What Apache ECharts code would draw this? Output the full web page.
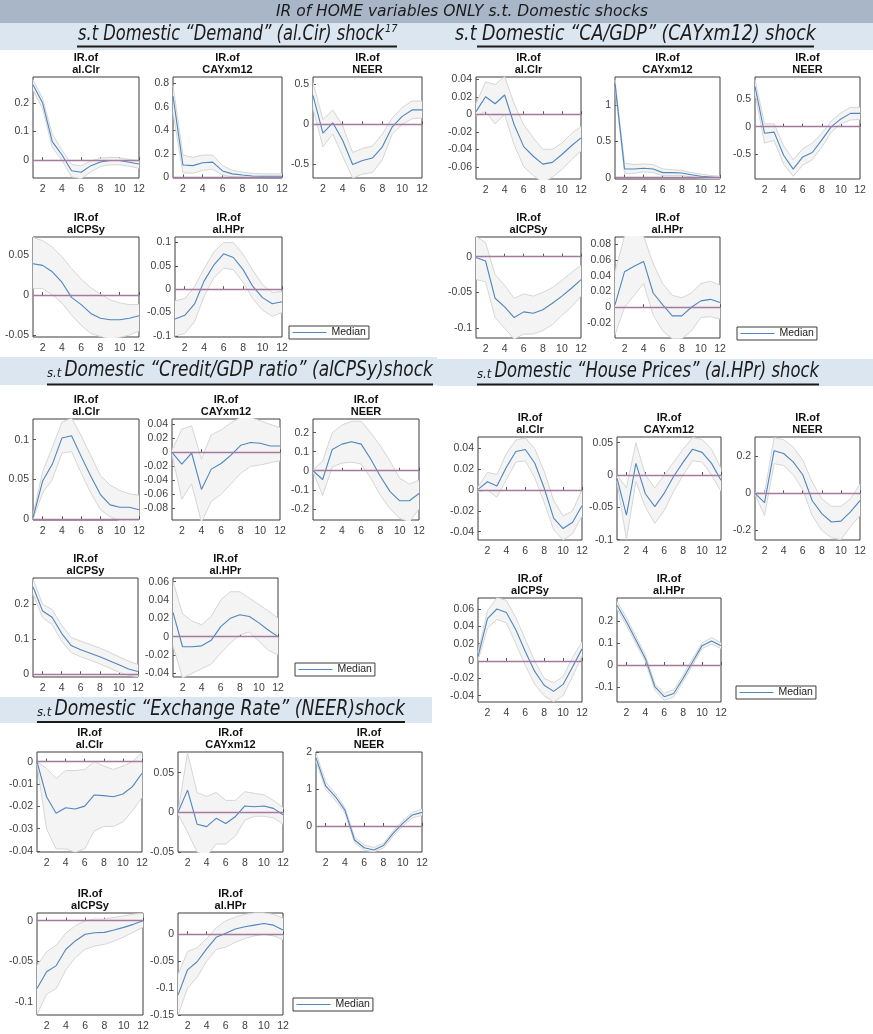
<!DOCTYPE html>
<html><head><meta charset="utf-8">
<script src="https://cdn.jsdelivr.net/npm/echarts@6/dist/echarts.min.js"></script>
<style>html,body{margin:0;padding:0;background:#fff}#c{width:873px;height:1034px}</style>
</head><body><div id="c"></div>
<script>
// ---------- texts ----------
const steps = ['1','2','3','4','5','6','7','8','9','10','11','12'];
const mainTitle = 'IR of HOME variables ONLY s.t. Domestic shocks';
const varTitles = ['IR.of\nal.Clr','IR.of\nCAYxm12','IR.of\nNEER','IR.of\nalCPSy','IR.of\nal.HPr'];
const legendLabel = 'Median';

// ---------- Demand (al.Cir) shock ----------
const demClrMed = [0.263,0.199,0.065,0.019,-0.037,-0.042,-0.019,-0.006,-0.001,-0.001,-0.007,-0.013];
const demClrHi  = [0.28,0.215,0.09,0.036,-0.015,-0.02,-0.003,0.007,0.01,0.008,0.003,-0.002];
const demClrLo  = [0.245,0.18,0.045,0.0,-0.058,-0.065,-0.04,-0.022,-0.016,-0.016,-0.021,-0.028];
const demClrTicks = [0,0.1,0.2];           const demClrLim = [-0.062,0.29];
const demCayMed = [0.69,0.105,0.1,0.125,0.13,0.055,0.03,0.02,0.012,0.01,0.01,0.01];
const demCayHi  = [0.78,0.19,0.17,0.19,0.19,0.1,0.06,0.045,0.035,0.03,0.03,0.03];
const demCayLo  = [0.55,0.04,0.035,0.06,0.07,0.02,0.005,0.0,-0.004,-0.004,0.0,0.0];
const demCayTicks = [0,0.2,0.4,0.6,0.8];   const demCayLim = [-0.005,0.853];
const demNeerMed = [0.36,-0.11,0.02,-0.2,-0.5,-0.45,-0.42,-0.28,-0.03,0.1,0.18,0.18];
const demNeerHi  = [0.52,0.06,0.18,-0.02,-0.35,-0.3,-0.27,-0.12,0.08,0.21,0.29,0.29];
const demNeerLo  = [0.2,-0.28,-0.12,-0.4,-0.67,-0.62,-0.6,-0.44,-0.12,0.0,0.07,0.08];
const demNeerTicks = [-0.5,0,0.5];         const demNeerLim = [-0.668,0.59];
const demCpsMed = [0.039,0.037,0.029,0.016,-0.003,-0.012,-0.023,-0.029,-0.031,-0.031,-0.029,-0.026];
const demCpsHi  = [0.072,0.068,0.06,0.048,0.033,0.02,0.009,0.001,-0.006,-0.01,-0.012,-0.012];
const demCpsLo  = [0.008,0.008,0.0,-0.01,-0.025,-0.038,-0.048,-0.052,-0.055,-0.053,-0.05,-0.045];
const demCpsTicks = [-0.05,0,0.05];        const demCpsLim = [-0.0525,0.0725];
const demHprMed = [-0.064,-0.056,-0.032,0.018,0.052,0.076,0.068,0.042,0.006,-0.018,-0.031,-0.027];
const demHprHi  = [-0.025,-0.02,0.005,0.045,0.08,0.1,0.1,0.075,0.04,0.01,-0.007,-0.005];
const demHprLo  = [-0.1,-0.095,-0.07,-0.015,0.025,0.045,0.042,0.015,-0.02,-0.045,-0.058,-0.05];
const demHprTicks = [-0.1,-0.05,0,0.05,0.1]; const demHprLim = [-0.1024,0.112];

// ---------- CA/GDP (CAYxm12) shock ----------
const cagClrMed = [0.003,0.020,0.012,0.022,-0.012,-0.037,-0.048,-0.057,-0.055,-0.046,-0.036,-0.027];
const cagClrHi  = [0.012,0.037,0.034,0.043,0.012,-0.012,-0.027,-0.04,-0.04,-0.033,-0.022,-0.014];
const cagClrLo  = [-0.002,0.003,-0.011,0.0,-0.035,-0.06,-0.07,-0.078,-0.072,-0.063,-0.052,-0.042];
const cagClrTicks = [-0.06,-0.04,-0.02,0,0.02,0.04]; const cagClrLim = [-0.074,0.0426];
const cagCayMed = [1.30,0.12,0.12,0.13,0.12,0.07,0.07,0.065,0.04,0.02,0.01,0.0];
const cagCayHi  = [1.35,0.2,0.18,0.19,0.18,0.12,0.11,0.1,0.07,0.05,0.03,0.02];
const cagCayLo  = [1.25,0.06,0.06,0.08,0.07,0.03,0.03,0.03,0.01,-0.005,-0.01,-0.015];
const cagCayTicks = [0,0.5,1];             const cagCayLim = [-0.018,1.387];
const cagNeerMed = [0.73,-0.12,-0.10,-0.52,-0.77,-0.55,-0.47,-0.24,0.0,0.14,0.24,0.24];
const cagNeerHi  = [0.85,0.05,0.05,-0.35,-0.6,-0.4,-0.3,-0.12,0.1,0.25,0.35,0.35];
const cagNeerLo  = [0.6,-0.3,-0.25,-0.68,-0.9,-0.7,-0.6,-0.37,-0.1,0.05,0.12,0.13];
const cagNeerTicks = [-0.5,0,0.5];         const cagNeerLim = [-0.95,0.9];
const cagCpsMed = [-0.001,-0.006,-0.058,-0.070,-0.085,-0.077,-0.079,-0.074,-0.065,-0.055,-0.044,-0.032];
const cagCpsHi  = [0.028,0.02,-0.025,-0.04,-0.058,-0.052,-0.055,-0.05,-0.043,-0.033,-0.022,-0.012];
const cagCpsLo  = [-0.032,-0.035,-0.085,-0.1,-0.115,-0.108,-0.108,-0.103,-0.095,-0.082,-0.07,-0.055];
const cagCpsTicks = [-0.1,-0.05,0];        const cagCpsLim = [-0.1135,0.0275];
const cagHprMed = [0.003,0.045,0.052,0.058,0.018,0.003,-0.011,-0.011,0.0,0.008,0.01,0.006];
const cagHprHi  = [0.045,0.09,0.095,0.09,0.055,0.03,0.015,0.012,0.018,0.03,0.033,0.028];
const cagHprLo  = [-0.035,0.0,0.015,0.03,-0.01,-0.03,-0.04,-0.04,-0.03,-0.013,-0.012,-0.015];
const cagHprTicks = [-0.02,0,0.02,0.04,0.06,0.08]; const cagHprLim = [-0.039,0.089];

// ---------- Credit/GDP (alCPSy) shock ----------
const crdClrMed = [0.002,0.048,0.069,0.102,0.105,0.079,0.054,0.031,0.018,0.015,0.015,0.012];
const crdClrHi  = [0.005,0.06,0.09,0.122,0.127,0.105,0.08,0.055,0.043,0.036,0.032,0.03];
const crdClrLo  = [0.0,0.033,0.05,0.083,0.085,0.058,0.033,0.012,0.003,-0.002,-0.002,-0.002];
const crdClrTicks = [0,0.05,0.1];          const crdClrLim = [-0.001,0.126];
const crdCayMed = [0,-0.017,-0.001,-0.053,-0.024,-0.016,-0.004,0.010,0.014,0.013,0.009,0.009];
const crdCayHi  = [0.003,0.033,0.038,-0.01,0.025,0.032,0.042,0.05,0.05,0.045,0.04,0.035];
const crdCayLo  = [-0.003,-0.067,-0.045,-0.1,-0.07,-0.06,-0.045,-0.03,-0.02,-0.018,-0.015,-0.012];
const crdCayTicks = [-0.08,-0.06,-0.04,-0.02,0,0.02,0.04]; const crdCayLim = [-0.0967,0.0476];
const crdNeerMed = [0,-0.046,0.112,0.14,0.152,0.14,0.06,-0.03,-0.11,-0.158,-0.158,-0.12];
const crdNeerHi  = [0.005,0.05,0.2,0.24,0.26,0.26,0.2,0.13,0.05,-0.04,-0.07,-0.05];
const crdNeerLo  = [-0.005,-0.13,0.02,0.04,0.045,0.035,-0.04,-0.13,-0.2,-0.25,-0.27,-0.2];
const crdNeerTicks = [-0.2,-0.1,0,0.1,0.2]; const crdNeerLim = [-0.259,0.272];
const crdCpsMed = [0.25,0.181,0.163,0.117,0.082,0.07,0.06,0.05,0.039,0.027,0.015,0.008];
const crdCpsHi  = [0.272,0.2,0.185,0.14,0.105,0.095,0.085,0.075,0.063,0.05,0.038,0.028];
const crdCpsLo  = [0.23,0.162,0.142,0.095,0.062,0.05,0.04,0.03,0.018,0.006,-0.003,-0.007];
const crdCpsTicks = [0,0.1,0.2];           const crdCpsLim = [-0.0077,0.275];
const crdHprMed = [0.0265,-0.011,-0.011,-0.010,-0.004,0.011,0.020,0.024,0.022,0.015,0.007,0.0];
const crdHprHi  = [0.06,0.025,0.017,0.013,0.022,0.04,0.049,0.049,0.042,0.035,0.028,0.02];
const crdHprLo  = [-0.01,-0.045,-0.04,-0.035,-0.03,-0.018,-0.007,0.002,0.005,-0.005,-0.015,-0.02];
const crdHprTicks = [-0.04,-0.02,0,0.02,0.04,0.06]; const crdHprLim = [-0.044,0.064];

// ---------- House Prices (al.HPr) shock ----------
const hprClrMed = [0.0006,0.008,0.004,0.022,0.037,0.039,0.026,0.002,-0.027,-0.037,-0.031,-0.015];
const hprClrHi  = [0.003,0.017,0.015,0.035,0.048,0.05,0.04,0.018,-0.01,-0.025,-0.02,0.0];
const hprClrLo  = [-0.002,0.0,-0.007,0.01,0.027,0.028,0.012,-0.012,-0.038,-0.048,-0.042,-0.025];
const hprClrTicks = [-0.04,-0.02,0,0.02,0.04]; const hprClrLim = [-0.048,0.051];
const hprCayMed = [-0.005,-0.062,0.018,-0.029,-0.049,-0.028,-0.002,0.02,0.04,0.035,0.018,-0.008];
const hprCayHi  = [0.0,-0.02,0.05,0.0,-0.02,0.0,0.02,0.04,0.058,0.055,0.04,0.01];
const hprCayLo  = [-0.01,-0.1,-0.01,-0.05,-0.075,-0.055,-0.025,0.0,0.022,0.02,0.0,-0.025];
const hprCayTicks = [-0.1,-0.05,0,0.05];   const hprCayLim = [-0.1006,0.0588];
const hprNeerMed = [0,-0.05,0.23,0.215,0.17,0.1,-0.04,-0.11,-0.155,-0.15,-0.1,-0.04];
const hprNeerHi  = [0.005,0.0,0.3,0.29,0.25,0.18,0.06,-0.03,-0.07,-0.07,-0.03,0.05];
const hprNeerLo  = [-0.005,-0.12,0.16,0.15,0.1,0.02,-0.12,-0.2,-0.24,-0.25,-0.18,-0.12];
const hprNeerTicks = [-0.2,0,0.2];         const hprNeerLim = [-0.252,0.304];
const hprCpsMed = [0.005,0.049,0.060,0.056,0.036,0.011,-0.012,-0.028,-0.035,-0.027,-0.007,0.014];
const hprCpsHi  = [0.01,0.058,0.073,0.07,0.05,0.025,0.0,-0.02,-0.025,-0.018,0.004,0.022];
const hprCpsLo  = [0.0,0.038,0.048,0.044,0.02,-0.005,-0.027,-0.04,-0.047,-0.04,-0.018,0.006];
const hprCpsTicks = [-0.04,-0.02,0,0.02,0.04,0.06]; const hprCpsLim = [-0.0473,0.0727];
const hprHprMed = [0.272,0.197,0.114,0.03,-0.098,-0.144,-0.129,-0.06,0.015,0.088,0.109,0.088];
const hprHprHi  = [0.29,0.215,0.13,0.045,-0.085,-0.128,-0.112,-0.045,0.03,0.1,0.125,0.1];
const hprHprLo  = [0.255,0.18,0.098,0.015,-0.113,-0.16,-0.145,-0.075,0.0,0.075,0.095,0.075];
const hprHprTicks = [-0.1,0,0.1,0.2];      const hprHprLim = [-0.168,0.3045];

// ---------- Exchange Rate (NEER) shock ----------
const exrClrMed = [0,-0.0157,-0.0231,-0.0206,-0.0212,-0.0199,-0.0149,-0.0152,-0.0157,-0.0145,-0.0112,-0.0052];
const exrClrHi  = [0.0,-0.003,-0.0075,-0.004,-0.004,-0.0035,0.0,-0.002,-0.0035,-0.002,0.0,0.004];
const exrClrLo  = [-0.001,-0.03,-0.039,-0.039,-0.0405,-0.039,-0.031,-0.029,-0.029,-0.027,-0.022,-0.016];
const exrClrTicks = [-0.04,-0.03,-0.02,-0.01,0]; const exrClrLim = [-0.0404,0.0043];
const exrCayMed = [0,0.028,-0.015,-0.018,-0.0076,-0.014,-0.0055,0.008,0.007,0.008,0.005,-0.003];
const exrCayHi  = [0.0,0.075,0.025,0.02,0.025,0.015,0.015,0.026,0.024,0.022,0.015,0.006];
const exrCayLo  = [-0.002,-0.025,-0.05,-0.055,-0.04,-0.04,-0.03,-0.01,-0.005,-0.005,-0.007,-0.015];
const exrCayTicks = [-0.05,0,0.05];        const exrCayLim = [-0.05,0.076];
const exrNeerMed = [1.85,1.09,0.8,0.43,-0.38,-0.59,-0.65,-0.53,-0.2,0.07,0.3,0.37];
const exrNeerHi  = [1.98,1.2,0.88,0.5,-0.3,-0.52,-0.58,-0.47,-0.14,0.14,0.37,0.46];
const exrNeerLo  = [1.75,1.0,0.7,0.35,-0.45,-0.66,-0.7,-0.6,-0.27,0.0,0.22,0.29];
const exrNeerTicks = [0,1,2];              const exrNeerLim = [-0.706,2.01];
const exrCpsMed = [-0.083,-0.0625,-0.055,-0.035,-0.0245,-0.0167,-0.0147,-0.0143,-0.0114,-0.0082,-0.0045,0.0];
const exrCpsHi  = [-0.055,-0.038,-0.03,-0.015,-0.006,0.0,0.002,0.002,0.004,0.006,0.008,0.009];
const exrCpsLo  = [-0.115,-0.09,-0.083,-0.06,-0.045,-0.035,-0.031,-0.029,-0.025,-0.02,-0.014,-0.008];
const exrCpsTicks = [-0.1,-0.05,0];        const exrCpsLim = [-0.1155,0.0094];
const exrHprMed = [-0.113,-0.066,-0.051,-0.027,-0.0056,0.002,0.0099,0.014,0.017,0.02,0.017,0.008];
const exrHprHi  = [-0.075,-0.032,-0.025,-0.008,0.012,0.025,0.032,0.037,0.04,0.04,0.037,0.03];
const exrHprLo  = [-0.15,-0.1,-0.08,-0.05,-0.028,-0.024,-0.015,-0.008,-0.003,0.0,-0.003,-0.01];
const exrHprTicks = [-0.15,-0.1,-0.05,0];  const exrHprLim = [-0.15,0.0396];

// ---------- layout (pixel boxes: left, top, width, height) ----------
const panels = [
  {v:0, med:demClrMed, hi:demClrHi, lo:demClrLo, ticks:demClrTicks, lim:demClrLim, box:[33,77,106,101]},
  {v:1, med:demCayMed, hi:demCayHi, lo:demCayLo, ticks:demCayTicks, lim:demCayLim, box:[173,77,109,101]},
  {v:2, med:demNeerMed, hi:demNeerHi, lo:demNeerLo, ticks:demNeerTicks, lim:demNeerLim, box:[313,77,109,101]},
  {v:3, med:demCpsMed, hi:demCpsHi, lo:demCpsLo, ticks:demCpsTicks, lim:demCpsLim, box:[33,237,106,100]},
  {v:4, med:demHprMed, hi:demHprHi, lo:demHprLo, ticks:demHprTicks, lim:demHprLim, box:[175,237,107,100]},

  {v:0, med:cagClrMed, hi:cagClrHi, lo:cagClrLo, ticks:cagClrTicks, lim:cagClrLim, box:[476,77,105,102]},
  {v:1, med:cagCayMed, hi:cagCayHi, lo:cagCayLo, ticks:cagCayTicks, lim:cagCayLim, box:[615,77,105,102]},
  {v:2, med:cagNeerMed, hi:cagNeerHi, lo:cagNeerLo, ticks:cagNeerTicks, lim:cagNeerLim, box:[755,77,105,102]},
  {v:3, med:cagCpsMed, hi:cagCpsHi, lo:cagCpsLo, ticks:cagCpsTicks, lim:cagCpsLim, box:[476,237,105,101]},
  {v:4, med:cagHprMed, hi:cagHprHi, lo:cagHprLo, ticks:cagHprTicks, lim:cagHprLim, box:[615,237,105,101]},

  {v:0, med:crdClrMed, hi:crdClrHi, lo:crdClrLo, ticks:crdClrTicks, lim:crdClrLim, box:[33,419,106,101]},
  {v:1, med:crdCayMed, hi:crdCayHi, lo:crdCayLo, ticks:crdCayTicks, lim:crdCayLim, box:[172,419,108,101]},
  {v:2, med:crdNeerMed, hi:crdNeerHi, lo:crdNeerLo, ticks:crdNeerTicks, lim:crdNeerLim, box:[313,419,106,101]},
  {v:3, med:crdCpsMed, hi:crdCpsHi, lo:crdCpsLo, ticks:crdCpsTicks, lim:crdCpsLim, box:[33,578,105,99]},
  {v:4, med:crdHprMed, hi:crdHprHi, lo:crdHprLo, ticks:crdHprTicks, lim:crdHprLim, box:[173,578,105,99]},

  {v:0, med:hprClrMed, hi:hprClrHi, lo:hprClrLo, ticks:hprClrTicks, lim:hprClrLim, box:[478,437,104,103]},
  {v:1, med:hprCayMed, hi:hprCayHi, lo:hprCayLo, ticks:hprCayTicks, lim:hprCayLim, box:[617,437,104,103]},
  {v:2, med:hprNeerMed, hi:hprNeerHi, lo:hprNeerLo, ticks:hprNeerTicks, lim:hprNeerLim, box:[755,437,105,103]},
  {v:3, med:hprCpsMed, hi:hprCpsHi, lo:hprCpsLo, ticks:hprCpsTicks, lim:hprCpsLim, box:[478,598,104,104]},
  {v:4, med:hprHprMed, hi:hprHprHi, lo:hprHprLo, ticks:hprHprTicks, lim:hprHprLim, box:[617,598,104,104]},

  {v:0, med:exrClrMed, hi:exrClrHi, lo:exrClrLo, ticks:exrClrTicks, lim:exrClrLim, box:[37,752,105,100]},
  {v:1, med:exrCayMed, hi:exrCayHi, lo:exrCayLo, ticks:exrCayTicks, lim:exrCayLim, box:[178,752,105,100]},
  {v:2, med:exrNeerMed, hi:exrNeerHi, lo:exrNeerLo, ticks:exrNeerTicks, lim:exrNeerLim, box:[316,752,106,100]},
  {v:3, med:exrCpsMed, hi:exrCpsHi, lo:exrCpsLo, ticks:exrCpsTicks, lim:exrCpsLim, box:[37,913,106,102]},
  {v:4, med:exrHprMed, hi:exrHprHi, lo:exrHprLo, ticks:exrHprTicks, lim:exrHprLim, box:[178,913,105,102]}
];
const legendBoxes = [[289,326],[737,327],[295,663],[736,686],[293,998]];

// ---------- styles ----------
const MEDIAN_C = '#4e86bf', BAND_C = '#d6d6d6', FILL_C = '#f4f4f4', ZERO_C = '#a57a9f';
const AX_FONT = '"Liberation Sans", Arial, sans-serif';
const HF = '"Liberation Sans Narrow","DejaVu Sans Condensed","Liberation Sans",sans-serif';
const fmt = v => { const r = Math.round(v * 100000) / 100000; return r === 0 ? '0' : String(r); };

const grid = [], xAxis = [], yAxis = [], series = [], graphic = [];
panels.forEach((p, i) => {
  const [l, t, w, h] = p.box;
  grid.push({left:l, top:t, width:w, height:h, show:true, borderColor:'#3c3c3c', borderWidth:1, backgroundColor:'#fff'});
  xAxis.push({type:'category', gridIndex:i, data:steps, boundaryGap:false,
    axisLine:{show:false}, splitLine:{show:false},
    axisTick:{show:true, inside:true, length:3, interval:(k)=>k%2===1, lineStyle:{color:'#555'}},
    axisLabel:{interval:(k)=>k%2===1, fontSize:10.5, color:'#404040', margin:6, fontFamily:AX_FONT}});
  yAxis.push({type:'value', gridIndex:i, min:p.lim[0], max:p.lim[1],
    axisLine:{show:false}, splitLine:{show:false},
    axisTick:{show:true, inside:true, length:3, customValues:p.ticks, lineStyle:{color:'#555'}},
    axisLabel:{customValues:p.ticks, formatter:fmt, fontSize:10.5, color:'#404040', margin:4, fontFamily:AX_FONT}});
  const diff = p.hi.map((v, k) => v - p.lo[k]);
  series.push({type:'line', xAxisIndex:i, yAxisIndex:i, data:p.lo, stack:'band'+i, stackStrategy:'all',
    symbol:'none', silent:true, lineStyle:{opacity:0}, z:1});
  series.push({type:'line', xAxisIndex:i, yAxisIndex:i, data:diff, stack:'band'+i, stackStrategy:'all',
    symbol:'none', silent:true, lineStyle:{opacity:0}, areaStyle:{color:FILL_C, opacity:1}, z:1});
  series.push({type:'line', xAxisIndex:i, yAxisIndex:i, data:p.hi, symbol:'none', silent:true,
    lineStyle:{color:BAND_C, width:1}, z:2});
  series.push({type:'line', xAxisIndex:i, yAxisIndex:i, data:p.lo, symbol:'none', silent:true,
    lineStyle:{color:BAND_C, width:1}, z:2,
    markLine:{silent:true, symbol:'none', label:{show:false}, animation:false,
      lineStyle:{color:ZERO_C, width:1.3, type:'solid'}, data:[{yAxis:0}]}});
  series.push({type:'line', name:legendLabel, xAxisIndex:i, yAxisIndex:i, data:p.med, symbol:'none',
    itemStyle:{color:MEDIAN_C}, lineStyle:{color:MEDIAN_C, width:1.1}, z:4});
  graphic.push({type:'text', x:l + w/2, y:t - 25, silent:true,
    style:{text:varTitles[p.v], font:'bold 11px ' + AX_FONT, fill:'#111', align:'center', textAlign:'center',
      verticalAlign:'top', textVerticalAlign:'top', lineHeight:12}});
});

// ---------- headers ----------
const meas = document.createElement('canvas').getContext('2d');
const tw = (s, f) => { meas.font = f; return meas.measureText(s).width; };
function fitText(s, x0, x1, y, size) {
  const font = 'italic ' + size + 'px ' + HF;
  return {type:'text', x:x0, y:y, scaleX:(x1 - x0) / tw(s, font), silent:true, z:10,
    style:{text:s, font:font, fill:'#1b1b1b', align:'left', textAlign:'left', verticalAlign:'middle', textVerticalAlign:'middle'}};
}
function smallPrefix(x0, y, size) {
  const font = 'italic 13px ' + HF;
  return {el:{type:'text', x:x0, y:y + 0.35*(size-13), silent:true, z:10,
    style:{text:'s.t', font:font, fill:'#1b1b1b', align:'left', textAlign:'left', verticalAlign:'middle', textVerticalAlign:'middle'}},
    w: tw('s.t', font)};
}
const rect = (x, y, w, h, c) => ({type:'rect', silent:true, z:5, shape:{x, y, width:w, height:h}, style:{fill:c}});
const uline = (x0, x1, y) => ({type:'line', silent:true, z:11, shape:{x1:x0, y1:y, x2:x1, y2:y}, style:{stroke:'#1b1b1b', lineWidth:2.2}});

graphic.push(rect(0, 0, 873, 23, '#a9b6c8'));
graphic.push(rect(0, 23, 873, 27, '#dce6f1'));
graphic.push(fitText(mainTitle, 276, 648, 12, 16));
// Demand
graphic.push(fitText('s.t Domestic \u201cDemand\u201d (al.Cir) shock', 78, 384, 35, 21));
graphic.push({type:'text', x:385, y:29, silent:true, z:10, style:{text:'17', font:'italic 11px ' + HF, fill:'#1b1b1b', align:'left', textAlign:'left', verticalAlign:'middle', textVerticalAlign:'middle'}});
graphic.push(uline(77, 397, 46.5));
// CA/GDP
graphic.push(fitText('s.t Domestic \u201cCA/GDP\u201d (CAYxm12) shock', 455, 816, 35, 21));
graphic.push(uline(477, 814, 46.5));
// Credit, House prices, Exchange rate
function smallHeader(bandX, bandW, bandY, bandH, x0, x1, y, text, ulY) {
  graphic.push(rect(bandX, bandY, bandW, bandH, '#dce6f1'));
  const pre = smallPrefix(x0, y, 21);
  graphic.push(pre.el);
  graphic.push(fitText(text, x0 + pre.w + 3, x1, y, 21));
  graphic.push(uline(x0, x1, ulY));
}
smallHeader(0, 437, 357, 28, 47, 433, 371, 'Domestic \u201cCredit/GDP ratio\u201d (alCPSy)shock', 384.5);
smallHeader(437, 436, 359, 27, 477, 819, 372, 'Domestic \u201cHouse Prices\u201d (al.HPr) shock', 384.5);
smallHeader(0, 432, 697, 26, 37, 405, 710, 'Domestic \u201cExchange Rate\u201d (NEER)shock', 722);

const legend = legendBoxes.map(b => ({left:b[0], top:b[1], data:[legendLabel], selectedMode:false,
  itemWidth:34, itemHeight:9, itemStyle:{opacity:0}, lineStyle:{color:MEDIAN_C, width:1, opacity:1},
  padding:[1,3,1,3], borderColor:'#3c3c3c', borderWidth:1,
  borderRadius:0, backgroundColor:'#fff', textStyle:{fontSize:10.5, color:'#222', fontFamily:AX_FONT}}));

const chart = echarts.init(document.getElementById('c'), null, {renderer:'canvas'});
chart.setOption({animation:false, textStyle:{fontFamily:AX_FONT}, grid, xAxis, yAxis, series, legend, graphic});
</script></body></html>
